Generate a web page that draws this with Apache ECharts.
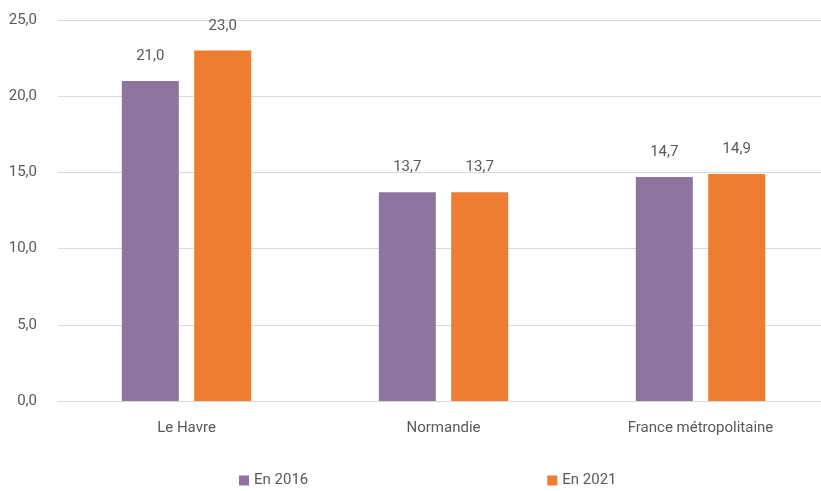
<!DOCTYPE html>
<html>
<head>
<meta charset="utf-8">
<script src="https://cdn.jsdelivr.net/npm/echarts@6/dist/echarts.min.js"></script>
<style>
  html, body { margin: 0; padding: 0; background: #fff; }
  #chart { width: 821px; height: 491px; }
</style>
</head>
<body>
<div id="chart"></div>
<script>
// données
var categories = ['Le Havre', 'Normandie', 'France métropolitaine'];
var serie2016 = [21.0, 13.7, 14.7];
var serie2021 = [23.0, 13.7, 14.9];
var seriesNames = ['En 2016', 'En 2021'];

var police = "Roboto, 'Noto Sans', sans-serif";
var gris = '#595959';

function fmt(v) {
  return v.toFixed(1).replace('.', ',');
}

var myChart = echarts.init(document.getElementById('chart'));

var option = {
  animation: false,
  textStyle: { fontFamily: police },
  // la zone de tracé déborde à droite, comme dans l'original
  grid: { left: 58, width: 771, top: 20, bottom: 90, outerBoundsMode: 'none' },
  legend: {
    data: seriesNames,
    top: 468,
    left: 234,
    itemWidth: 10,
    itemHeight: 10,
    itemGap: 239,
    icon: 'rect',
    textStyle: { color: gris, fontSize: 15, fontFamily: police }
  },
  xAxis: {
    type: 'category',
    data: categories,
    axisLine: { lineStyle: { color: '#d9d9d9', width: 1 } },
    axisTick: { show: false },
    axisLabel: { color: gris, fontSize: 15, margin: 20, fontFamily: police }
  },
  yAxis: {
    type: 'value',
    min: 0,
    max: 25,
    interval: 5,
    axisLine: { show: false },
    axisTick: { show: false },
    splitLine: { lineStyle: { color: '#d9d9d9', width: 1 } },
    axisLabel: {
      color: gris, fontSize: 15, margin: 21, fontFamily: police,
      formatter: function (v) { return fmt(v); }
    }
  },
  series: [
    {
      name: seriesNames[0],
      type: 'bar',
      data: serie2016,
      barWidth: 57,
      barGap: '27%',
      itemStyle: { color: '#8e75a0' },
      label: {
        show: true, position: 'top', distance: 17,
        color: gris, fontSize: 15, fontFamily: police,
        formatter: function (p) { return fmt(p.value); }
      }
    },
    {
      name: seriesNames[1],
      type: 'bar',
      data: serie2021,
      barWidth: 57,
      barGap: '27%',
      itemStyle: { color: '#ed7d31' },
      label: {
        show: true, position: 'top', distance: 17,
        color: gris, fontSize: 15, fontFamily: police,
        formatter: function (p) { return fmt(p.value); }
      }
    }
  ]
};

myChart.setOption(option);
</script>
</body>
</html>
